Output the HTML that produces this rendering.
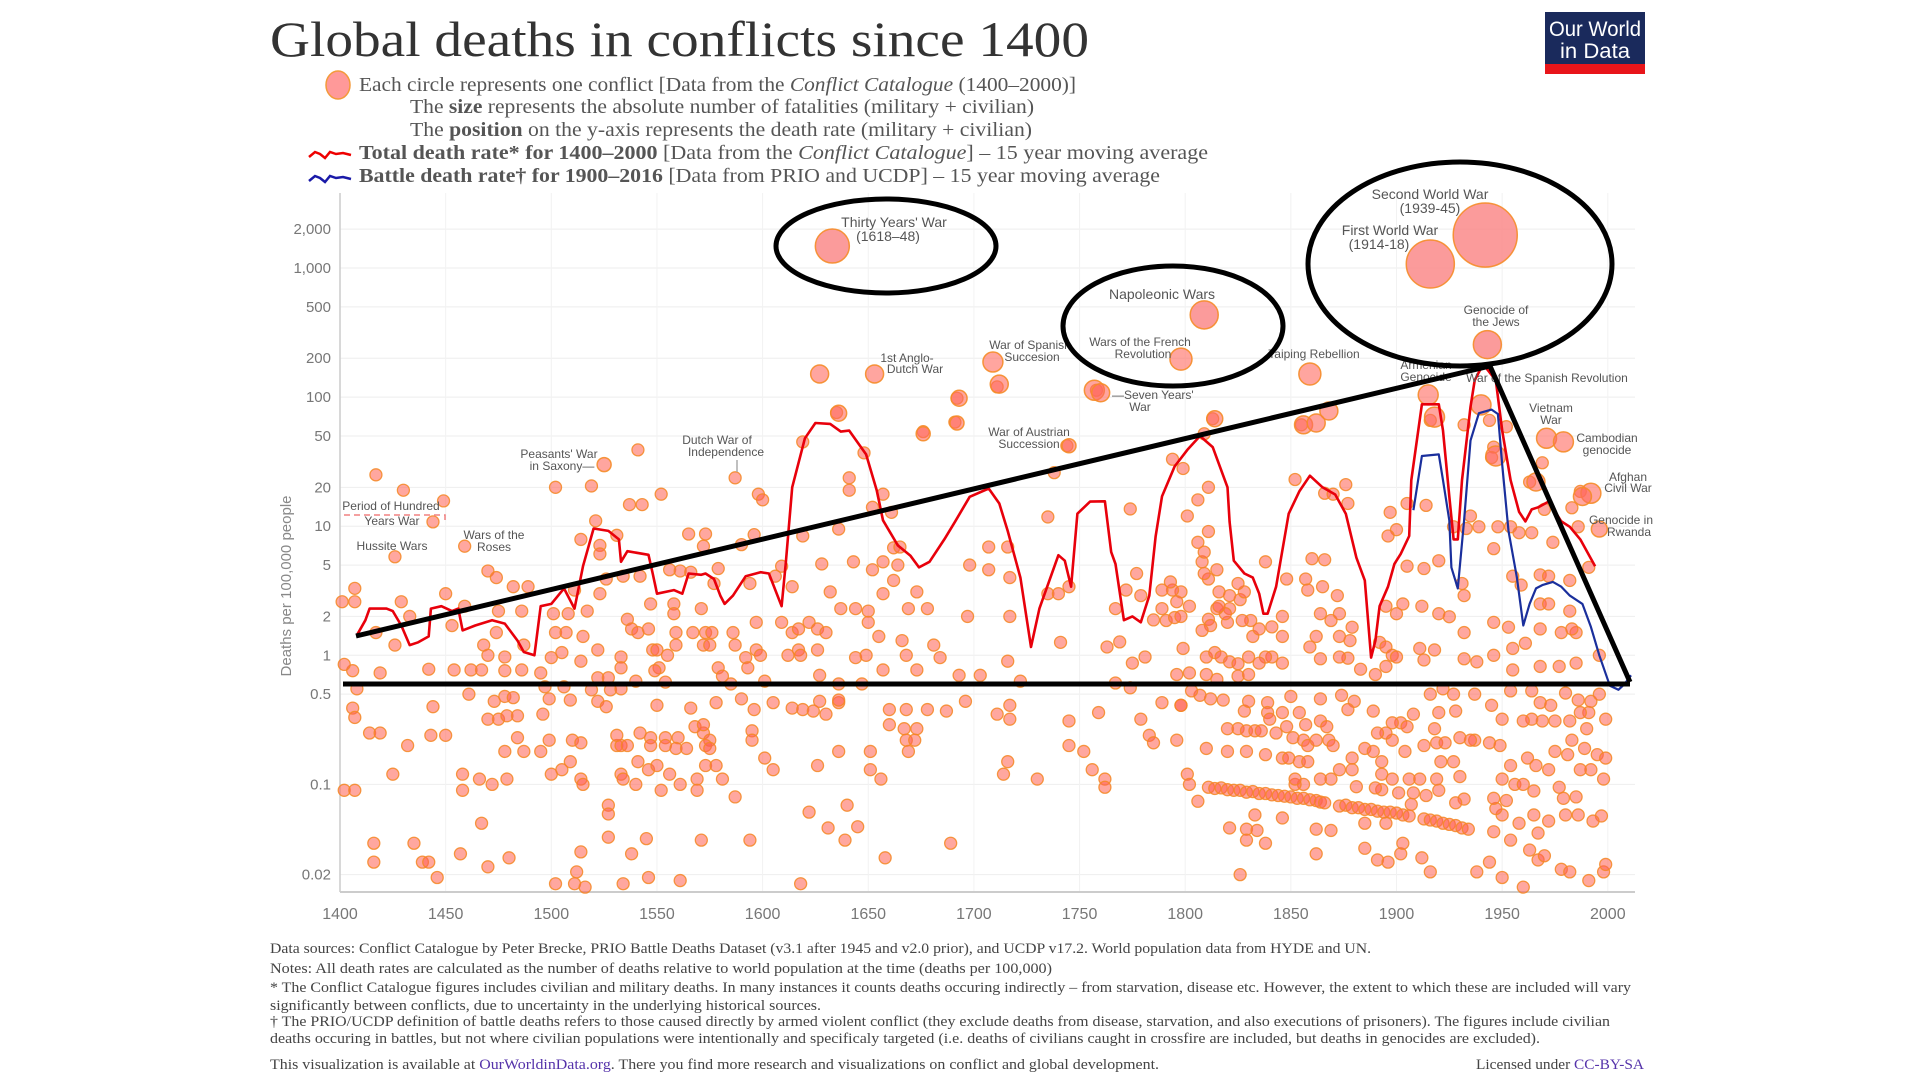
<!DOCTYPE html>
<html><head><meta charset="utf-8">
<style>
html,body{margin:0;padding:0;background:#fff;}
#wrap{position:relative;width:1920px;height:1080px;overflow:hidden;}
svg text{font-family:"Liberation Serif",serif;}
.sans{font-family:"Liberation Sans",sans-serif !important;}
</style></head>
<body>
<div id="wrap">
<svg id="svg" width="1920" height="1080" viewBox="0 0 1920 1080">
  <text x="270" y="56" font-size="50" fill="#333" textLength="819" lengthAdjust="spacingAndGlyphs">Global deaths in conflicts since 1400</text>
  <g>
    <rect x="1545" y="12" width="100" height="62" fill="#1a2a5c"/>
    <rect x="1545" y="64" width="100" height="10" fill="#e8151a"/>
    <text class="sans" x="1595" y="36" font-size="21" fill="#fff" text-anchor="middle" textLength="92" lengthAdjust="spacingAndGlyphs">Our World</text>
    <text class="sans" x="1595" y="58" font-size="21" fill="#fff" text-anchor="middle" textLength="70" lengthAdjust="spacingAndGlyphs">in Data</text>
  </g>
  <g fill="#555" font-size="20">
    <ellipse cx="338" cy="85" rx="12" ry="14" fill="#f99" stroke="#f39a3a" stroke-width="1.5"/>
    <text x="359" y="91" textLength="717" lengthAdjust="spacingAndGlyphs">Each circle represents one conflict [Data from the <tspan font-style="italic">Conflict Catalogue</tspan> (1400–2000)]</text>
    <text x="410" y="113" textLength="624" lengthAdjust="spacingAndGlyphs">The <tspan font-weight="bold">size</tspan> represents the absolute number of fatalities (military + civilian)</text>
    <text x="410" y="136" textLength="622" lengthAdjust="spacingAndGlyphs">The <tspan font-weight="bold">position</tspan> on the y-axis represents the death rate (military + civilian)</text>
    <path d="M309,157 l6,-5 l5,2 l5,4 l5,-6 l6,2 l7,-1 l8,2" fill="none" stroke="#e00" stroke-width="2.5"/>
    <text x="359" y="159" textLength="849" lengthAdjust="spacingAndGlyphs"><tspan font-weight="bold">Total death rate* for 1400–2000</tspan> [Data from the <tspan font-style="italic">Conflict Catalogue</tspan>] – 15 year moving average</text>
    <path d="M309,181 l6,-5 l5,2 l5,4 l5,-6 l6,2 l7,-1 l8,2" fill="none" stroke="#1a1aa8" stroke-width="2.5"/>
    <text x="359" y="182" textLength="801" lengthAdjust="spacingAndGlyphs"><tspan font-weight="bold">Battle death rate† for 1900–2016</tspan> [Data from PRIO and UCDP] – 15 year moving average</text>
  </g>
  <g id="grid"></g>
  <g id="axes"></g>
  <g id="points"></g>
  <g id="lines"></g>
  <g id="labels" class="sans" fill="#555"></g>
  <g id="annot" fill="none" stroke="#000" stroke-width="5">
    <ellipse cx="886" cy="246" rx="110" ry="47"/>
    <ellipse cx="1173" cy="326" rx="110" ry="60"/>
    <ellipse cx="1460" cy="264" rx="152" ry="102"/>
    <polyline points="356,636 1490,366 1630,682"/>
    <line x1="343" y1="684" x2="1630" y2="684"/>
  </g>
  <g fill="#444" font-size="15">
    <text x="270" y="953" textLength="1101" lengthAdjust="spacingAndGlyphs">Data sources: Conflict Catalogue by Peter Brecke, PRIO Battle Deaths Dataset (v3.1 after 1945 and v2.0 prior), and UCDP v17.2. World population data from HYDE and UN.</text>
    <text x="270" y="973" textLength="782" lengthAdjust="spacingAndGlyphs">Notes: All death rates are calculated as the number of deaths relative to world population at the time (deaths per 100,000)</text>
    <text x="270" y="992" textLength="1361" lengthAdjust="spacingAndGlyphs">* The Conflict Catalogue figures includes civilian and military deaths. In many instances it counts deaths occuring indirectly – from starvation, disease etc. However, the extent to which these are included will vary</text>
    <text x="270" y="1010" textLength="551" lengthAdjust="spacingAndGlyphs">significantly between conflicts, due to uncertainty in the underlying historical sources.</text>
    <text x="270" y="1026" textLength="1340" lengthAdjust="spacingAndGlyphs">† The PRIO/UCDP definition of battle deaths refers to those caused directly by armed violent conflict (they exclude deaths from disease, starvation, and also executions of prisoners). The figures include civilian</text>
    <text x="270" y="1043" textLength="1270" lengthAdjust="spacingAndGlyphs">deaths occuring in battles, but not where civilian populations were intentionally and specificaly targeted (i.e. deaths of civilians caught in crossfire are included, but deaths in genocides are excluded).</text>
    <text x="270" y="1069" textLength="889" lengthAdjust="spacingAndGlyphs">This visualization is available at <tspan fill="#5533aa">OurWorldinData.org</tspan>. There you find more research and visualizations on conflict and global development.</text>
    <text x="1476" y="1069" textLength="168" lengthAdjust="spacingAndGlyphs">Licensed under <tspan fill="#5533aa">CC-BY-SA</tspan></text>
  </g>
</svg>
</div>
<script>
// ---------- DATA ----------
const yTicks = [2000, 1000, 500, 200, 100, 50, 20, 10, 5, 2, 1, 0.5, 0.1, 0.02];
const yTickLabels = ["2,000", "1,000", "500", "200", "100", "50", "20", "10", "5", "2", "1", "0.5", "0.1", "0.02"];
const xTicks = [1400, 1450, 1500, 1550, 1600, 1650, 1700, 1750, 1800, 1850, 1900, 1950, 2000];

// Small conflicts: [year, deaths per 100,000]
const conflictYears = [
1417,1430,1449,1444,1426,1459,1407,1407,1401,1429,1450,1470,1474,1482,1489,1502,1519,1541,1537,1543,1552,1587,1598,1600,1635,1692,1691,1676,1711,1641,1641,1657,1648,1619,1521,1514,1523,1523,1531,1565,1573,1572,1596,1590,1619,1636,1661,1652,1628,1643,1652,1657,1664,1662,1665,1698,1707,1716,1707,1717,1614,1632,1657,1662,1673,1637,1644,1669,1678,1650,1697,1717,1556,1561,1566,1579,1534,1542,1526,1609,1606,1594,1577,1571,1547,1558,1558,1523,1511,1486,1501,1508,1517,1475,1459,1453,1433,1426,1417,1442,1454,1462,1467,1478,1486,1495,1406,1402,1419,1474,1468,1470,1478,1487,1500,1505,1514,1502,1507,1515,1522,1533,1536,1538,1541,1546,1548,1550,1555,1551,1549,1533,1559,1559,1567,1573,1576,1572,1575,1579,1586,1587,1592,1593,1597,1599,1597,1609,1614,1617,1622,1626,1630,1617,1618,1612,1626,1644,1649,1650,1655,1666,1668,1681,1684,1657,1673,1693,1703,1716,1627,1636,1647,1722,1581,1601,1585,1522,1527,1540,1554,
1408,1497,1506,1519,1528,1533,1461,1499,1509,1522,1526,1550,1566,1578,1590,1596,1605,1614,1619,1624,1627,1630,1636,1636,1660,1668,1678,1687,1696,1717,1711,1717,1406,1407,1444,1473,1478,1482,1470,1475,1479,1484,1496,1414,1419,1432,1443,1450,1484,1478,1487,1495,1499,1510,1514,1531,1533,1536,1531,1542,1547,1547,1554,1560,1554,1559,1564,1568,1572,1575,1573,1575,1573,1578,1572,1509,1505,1500,1514,1515,1541,1546,1550,1533,1534,1540,1556,1561,1569,1581,1552,1569,1587,1595,1595,1601,1605,1626,1636,1651,1651,1656,1660,1667,1673,1668,1672,1669,1716,1714,1730,1425,1458,1466,1479,1472,1458,1402,1407,1467,1416,1435,1416,1439,1442,1446,1457,1470,1480,1527,1527,1527,1545,1538,1514,1512,1502,1511,1516,1534,1546,1561,1571,1594,1622,1640,1618,1631,1639,1645,1658,1689,
1758,1744,1738,1813,1809,1799,1794,1811,1806,1801,1855,1852,1876,1866,1870,1877,1916,1932,1944,1946,1945,1952,1969,1963,1970,1983,1987,1986,1974,1991,1954,1958,1964,1948,1939,1933,1935,1927,1946,1914,1897,1900,1896,1905,1905,1913,1920,1931,1932,1955,1959,1968,1972,1982,1968,1972,1982,1912,1920,1925,1932,1946,1953,1968,1978,1985,1983,1955,1961,1968,1977,1985,1996,1946,1938,1932,1955,1918,1911,1913,1900,1895,1903,1892,1895,1898,1890,1883,1877,1873,1878,1873,1879,1869,1873,1864,1862,1859,1864,1866,1860,1857,1865,1858,1848,1846,1841,1846,1841,1838,1846,1835,1832,1835,1831,1827,1826,1828,1825,1821,1820,1819,1815,1815,1811,1809,1808,1809,1806,1811,1816,1816,1821,1811,1812,1808,1802,1798,1794,1789,1793,1789,1791,1795,1798,1796,1810,1814,1817,1821,1825,1830,1810,1815,1825,1830,1802,1796,1799,1781,1775,1785,1777,1779,1772,1767,1774,1735,1735,1745,1740,1741,1763,1769,1767,1774,1838,1872,1895,1900,
1745,1759,1745,1752,1756,1762,1762,1779,1783,1785,1789,1798,1796,1801,1802,1806,1810,1820,1829,1838,1846,1849,1851,1856,1858,1862,1868,1870,1854,1858,1820,1825,1829,1833,1836,1843,1821,1829,1834,1829,1838,1826,1833,1846,1862,1869,1862,1891,1896,1885,1902,1903,1912,1916,1938,1944,1950,1960,1967,1978,1982,1991,1998,1999,1946,1954,1963,1970,1967,1958,1950,1947,1965,1972,1980,1986,1997,1993,1979,1985,1977,1965,1952,1946,1956,1950,1932,1928,1920,1914,1908,1901,1893,1890,1881,1873,1879,1893,1898,1906,1911,1919,1930,1869,1864,1856,1852,1852,1879,1885,1893,1898,1902,1908,1905,1898,1895,1889,1904,1913,1919,1921,1927,1937,1944,1949,1954,1960,1962,1966,1972,1975,1981,1983,1989,1995,1998,1992,1999,1987,1982,1990,1991,1987,1992,1999,1975,1969,1964,1960,1950,1945,1935,1928,1920,1918,1916,1922,1927,1937,1954,1968,1973,1964,1980,1986,1996,1923,1930,1907,1895,1885,1848,1857,1864,1867,1846,1854,1839,1850,1864,1874,1880,1889,1839,1828,1830,1812,1818,1807,1803,1798,1840,1877,1891,
1811,1814,1817,1820,1823,1826,1829,1832,1835,1838,1841,1844,1847,1850,1853,1856,1859,1862,1864,1866,1873,1876,1879,1882,1885,1888,1891,1894,1897,1900,1903,1906,1913,1916,1919,1922,1925,1928,1931,1934
];
const conflictRates = [
25,19,15.7,10.8,5.8,7.0,3.3,2.6,2.6,2.6,3.0,4.5,4.0,3.4,3.4,20,20.5,39,14.7,14.7,17.7,23.7,17.7,16,76,98,64,54,120,23.7,19,17.7,37,45,11,7.9,7.1,6.1,8.5,8.7,8.7,7,8.6,7.2,8.4,9.5,12.8,14,5.1,5.3,4.6,5.3,5,6.8,6.9,5,6.9,6.9,4.6,4,3.4,3.1,3,3.8,3.1,2.3,2.3,2.3,2.3,2.2,2.0,2.0,4.6,4.5,4.4,4.7,4.1,4.1,3.9,4.9,4.1,3.6,3.6,2.3,2.5,2.5,2.1,3.0,3.2,2.2,2.1,2.1,2.2,2.2,2.4,1.7,2.0,1.2,1.5,0.78,0.77,0.77,0.77,0.76,0.77,0.73,0.76,0.85,0.73,1.5,1.2,1.0,0.97,1.2,0.96,1.05,0.9,1.5,1.5,1.4,1.1,0.97,1.9,1.6,1.5,1.6,1.1,1.1,1.0,0.8,0.76,0.8,1.5,1.2,1.5,1.5,1.5,1.2,1.2,0.8,1.5,1.2,0.96,0.8,1.1,1.0,1.8,1.8,1.5,1.6,1.8,1.6,1.5,1.1,1.0,1.0,1.1,0.96,1.0,1.8,1.4,1.3,1.0,1.2,0.96,0.77,0.77,0.7,0.7,0.9,0.7,0.6,0.6,0.63,0.69,0.63,0.6,0.67,0.67,0.63,0.62,
0.55,0.57,0.57,0.54,0.54,0.55,0.5,0.46,0.45,0.44,0.4,0.41,0.39,0.43,0.46,0.38,0.43,0.39,0.38,0.37,0.44,0.35,0.43,0.45,0.38,0.38,0.38,0.37,0.44,0.41,0.35,0.32,0.39,0.33,0.4,0.44,0.48,0.47,0.32,0.32,0.34,0.34,0.35,0.25,0.25,0.2,0.24,0.24,0.23,0.18,0.18,0.18,0.22,0.22,0.21,0.2,0.2,0.2,0.24,0.25,0.23,0.2,0.23,0.23,0.2,0.19,0.19,0.28,0.25,0.22,0.2,0.19,0.14,0.14,0.29,0.15,0.13,0.12,0.11,0.1,0.15,0.13,0.14,0.12,0.11,0.1,0.12,0.1,0.11,0.11,0.09,0.09,0.08,0.26,0.22,0.16,0.13,0.14,0.18,0.18,0.13,0.11,0.29,0.27,0.27,0.22,0.22,0.18,0.15,0.12,0.11,0.12,0.12,0.11,0.11,0.1,0.09,0.09,0.09,0.05,0.035,0.035,0.025,0.025,0.025,0.019,0.029,0.023,0.027,0.069,0.059,0.039,0.038,0.029,0.03,0.021,0.017,0.017,0.016,0.017,0.019,0.018,0.037,0.037,0.061,0.069,0.017,0.046,0.037,0.047,0.027,0.035,
113,42,26,68,52,28,33,20,16,12,61,23,21,18,17.7,15,66,61,66,41,34,59,31,22,13.5,13.9,18.6,9.9,7.5,4.8,9.9,8.9,8.9,9.9,9.9,9.6,12,9.9,6.7,14.5,12.8,9.4,8.4,15,4.9,4.7,5.4,3.6,2.9,4.1,3.5,4.2,4.1,3.8,2.5,2.5,2.2,2.4,2.1,1.99,1.5,1.8,1.65,1.6,1.5,1.5,1.6,1.13,1.24,0.82,0.82,0.87,1.0,1.0,0.89,0.94,0.77,1.1,1.13,0.92,2.1,2.4,2.5,1.26,1.16,1.0,0.71,0.78,0.95,0.97,1.3,1.4,1.65,1.86,2.1,2.1,1.4,1.16,0.94,5.5,5.6,3.9,3.4,3.2,3.9,2.0,1.66,1.4,0.97,0.97,0.87,0.87,1.4,1.6,1.86,1.86,2.7,3.1,3.6,2.3,1.8,2.1,2.3,4.6,3.9,4.3,5.3,6.3,7.5,9.1,3.1,2.4,2.9,1.9,1.7,1.56,2.4,3.1,3.2,3.2,3.7,2.3,1.86,1.96,2.0,2.6,0.97,1.05,0.97,0.89,0.86,0.97,0.71,0.65,0.69,0.71,0.73,0.71,1.13,0.97,0.87,1.88,4.3,2.9,3.2,2.3,13.6,11.8,3.0,3.4,3.0,1.26,1.16,1.27,0.61,0.56,5.3,2.9,0.82,0.97,
0.31,0.36,0.2,0.18,0.13,0.11,0.095,0.32,0.24,0.21,0.43,0.41,0.22,0.12,0.1,0.074,0.19,0.18,0.18,0.17,0.16,0.16,0.23,0.22,0.2,0.22,0.22,0.2,0.15,0.15,0.27,0.27,0.26,0.26,0.26,0.25,0.046,0.045,0.044,0.037,0.035,0.02,0.058,0.055,0.045,0.044,0.029,0.026,0.025,0.032,0.029,0.035,0.027,0.021,0.021,0.025,0.019,0.016,0.026,0.022,0.021,0.018,0.021,0.024,0.043,0.037,0.031,0.028,0.042,0.05,0.058,0.065,0.058,0.052,0.058,0.058,0.057,0.052,0.078,0.08,0.095,0.089,0.075,0.078,0.1,0.11,0.077,0.072,0.09,0.082,0.086,0.086,0.091,0.094,0.096,0.13,0.13,0.12,0.11,0.11,0.11,0.11,0.115,0.11,0.11,0.1,0.1,0.11,0.16,0.19,0.15,0.22,0.3,0.35,0.28,0.3,0.25,0.18,0.18,0.2,0.21,0.15,0.15,0.22,0.21,0.2,0.14,0.1,0.16,0.14,0.13,0.18,0.17,0.22,0.19,0.17,0.11,0.13,0.16,0.13,0.31,0.27,0.36,0.36,0.44,0.32,0.31,0.31,0.32,0.31,0.32,0.41,0.22,0.37,0.36,0.27,0.5,0.55,0.5,0.5,0.53,0.43,0.41,0.53,0.51,0.45,0.5,0.21,0.23,0.07,0.05,0.05,0.28,0.29,0.31,0.28,0.36,0.36,0.43,0.48,0.46,0.49,0.44,0.37,0.36,0.37,0.44,0.46,0.45,0.49,0.53,0.41,0.32,0.38,0.25,
0.095,0.093,0.094,0.091,0.09,0.09,0.087,0.088,0.085,0.085,0.083,0.082,0.081,0.08,0.078,0.078,0.076,0.075,0.073,0.072,0.068,0.069,0.066,0.066,0.064,0.064,0.062,0.061,0.061,0.06,0.058,0.057,0.054,0.053,0.052,0.05,0.049,0.048,0.046,0.045
];

// Major labelled conflicts
const majorNames = ["Thirty Years' War","First World War","Second World War","Napoleonic Wars","Wars of the French Revolution","Genocide of the Jews","War of Spanish Succession","","1st Anglo-Dutch War","","Taiping Rebellion","","","","","Seven Years' War","","War of Austrian Succession","Armenian Genocide","War of the Spanish Revolution","","Vietnam War","Cambodian genocide","Afghan Civil War","","Genocide in Rwanda","","","","","Peasants' War in Saxony","",""];
const majorYears = [1633,1916,1942,1809,1798,1943,1709,1712,1653,1627,1859,1693,1636,1676,1692,1757,1760,1745,1915,1940,1918,1971,1979,1992,1988,1996,1868,1856,1862,1814,1525,1966,1947];
const majorRates = [1480,1074,1800,433,197,255,187,126,151,151,151,98,75,52,63,113,108,42,104,87,70,48,45,18,17,9.5,78,61,63,68,30,22,35];
const majorFatalities = [20,40,71,13.6,8.4,13.6,6.9,5.6,5.6,5.6,8.4,4.4,4.4,3.4,3.4,6.9,5.6,3.4,6.9,6.9,6.9,6.9,6.9,6.9,5.6,4.4,5.6,5.6,5.6,4.4,3.4,5.6,6.9];

// Total death rate (Conflict Catalogue, 15y moving average)
const totalYears = [1408,1412,1414,1422,1425,1429,1433,1437,1442,1443,1448,1453,1456,1458,1464,1472,1478,1484,1487,1492,1495,1500,1506,1511,1515,1520,1527,1532,1533,1536,1546,1548,1550,1558,1562,1565,1571,1573,1577,1580,1582,1586,1592,1599,1603,1609,1611,1614,1620,1625,1632,1637,1641,1649,1654,1657,1664,1670,1674,1679,1686,1691,1698,1707,1712,1716,1722,1727,1731,1740,1743,1746,1749,1755,1762,1765,1767,1771,1775,1779,1783,1786,1789,1795,1801,1807,1813,1820,1821,1823,1828,1832,1835,1837,1839,1843,1849,1854,1859,1865,1871,1876,1881,1885,1888,1890,1892,1896,1899,1902,1906,1907,1912,1920,1922,1925,1927,1929,1931,1935,1937,1941,1947,1950,1954,1958,1961,1964,1967,1972,1978,1982,1987,1994];
const totalRates = [1.43,1.87,2.3,2.3,2.2,1.7,1.2,1.26,1.4,2.3,2.4,2.2,2.3,1.56,1.7,1.87,1.76,1.3,1.06,1.0,2.4,2.5,3.3,2.3,4.9,9.6,9.2,7.9,5.3,6.4,6.0,4.3,3.0,3.2,3.0,4.3,4.2,4.3,3.9,2.9,2.5,2.9,4.1,4.4,4.3,2.4,5.2,20,48,63,62,54,55,36,19,11.1,7.1,5.9,4.8,5.3,7.9,10.8,16.9,19.6,15,9.2,4.0,1.16,2.3,5.96,5.4,3.4,12.5,15.5,15.6,6.3,5.1,1.87,2.0,1.8,2.9,8.3,17,29,39,50,41,20,10.8,5.4,4.3,4.0,3.0,2.1,2.1,3.4,12.5,18.6,24.6,20,17.6,12.5,5.7,3.8,0.96,1.3,2.4,3.4,5.1,6.1,8.4,22.7,88,88,55,17,7.9,7.9,22.7,84,135,180,135,55,22.7,12.9,10.9,13.5,14,15.5,10.9,9.9,7.9,4.9];

// Battle death rate (PRIO/UCDP, 15y moving average)
const battleYears = [1908,1912,1920,1922,1925,1926,1929,1932,1935,1939,1945,1948,1950,1953,1957,1960,1963,1966,1969,1974,1978,1982,1988,1992,1996,2001,2005,2008,2011];
const battleRates = [13.3,35,36,22.7,11.1,4.8,3.3,11.1,46,75,80,74,30,9.2,4.0,1.7,2.5,3.3,3.5,3.7,3.4,2.9,2.5,1.66,1.0,0.58,0.54,0.6,0.7];

// ---------- SCALES ----------
const X0 = 340, PX_PER_YEAR = 2.113;
function xScale(year){ return X0 + (year - 1400) * PX_PER_YEAR; }
function yScale(v){ return 268 - (Math.log10(v) - 3) * 129.1; }
const PLOT_LEFT = 340, PLOT_RIGHT = 1635, PLOT_TOP = 193, PLOT_BOTTOM = 892;
const NS = "http://www.w3.org/2000/svg";
function mk(tag, attrs, parent){
  const el = document.createElementNS(NS, tag);
  for (const k in attrs) el.setAttribute(k, attrs[k]);
  parent.appendChild(el);
  return el;
}

// ---------- GRID & AXES ----------
const grid = document.getElementById('grid');
const axes = document.getElementById('axes');
yTicks.forEach((t, i) => {
  const y = yScale(t);
  const gl = mk('line', {x1: PLOT_LEFT, x2: PLOT_RIGHT, y1: y, y2: y, stroke: '#eee', 'stroke-width': 1}, grid);
  
  
  const tx = mk('text', {x: 331, y: y + 5, 'font-size': 15, fill: '#777', 'text-anchor': 'end', class: 'sans'}, axes);
  tx.textContent = yTickLabels[i];
  
  
});
xTicks.forEach(t => {
  const x = xScale(t);
  const gl = mk('line', {x1: x, x2: x, y1: PLOT_TOP, y2: PLOT_BOTTOM, stroke: '#f2f2f2', 'stroke-width': 1}, grid);
  
  
  const tx = mk('text', {x: x, y: 919, 'font-size': 16, fill: '#777', 'text-anchor': 'middle', class: 'sans'}, axes);
  tx.textContent = t;
  
  
});
const yl = mk('line', {x1: PLOT_LEFT, x2: PLOT_LEFT, y1: PLOT_TOP, y2: PLOT_BOTTOM, stroke: '#ccc', 'stroke-width': 1.5}, axes);


const xl = mk('line', {x1: PLOT_LEFT, x2: PLOT_RIGHT, y1: PLOT_BOTTOM, y2: PLOT_BOTTOM, stroke: '#ccc', 'stroke-width': 2}, axes);


const yt = mk('text', {x: 0, y: 0, 'font-size': 15, fill: '#888', 'text-anchor': 'middle', class: 'sans', transform: 'translate(291,586) rotate(-90)'}, axes);
yt.textContent = 'Deaths per 100,000 people';



// ---------- POINTS ----------
const pts = document.getElementById('points');
const n = Math.min(conflictYears.length, conflictRates.length);
for (let i = 0; i < n; i++){
  const c = mk('circle', {cx: xScale(conflictYears[i]), cy: yScale(conflictRates[i]), r: 6,
    fill: 'rgba(255,95,80,0.55)', stroke: 'rgba(245,135,35,0.85)', 'stroke-width': 1.3}, pts);
  
  
}
for (let i = 0; i < majorYears.length; i++){
  const r = Math.max(6, 3.8 * Math.sqrt(majorFatalities[i]));
  const c = mk('circle', {cx: xScale(majorYears[i]), cy: yScale(majorRates[i]), r: r,
    fill: r > 12 ? 'rgba(250,130,130,0.8)' : 'rgba(255,105,95,0.6)', stroke: 'rgba(245,140,40,0.9)', 'stroke-width': 1.5}, pts);
  
  
}

// ---------- LINES ----------
const lines = document.getElementById('lines');
function pathFrom(xs, vs){
  return xs.map((yr, i) => (i ? 'L' : 'M') + xScale(yr).toFixed(1) + ',' + yScale(vs[i]).toFixed(1)).join(' ');
}
const rl = mk('path', {d: pathFrom(totalYears, totalRates), fill: 'none', stroke: '#e8000b', 'stroke-width': 2.6, 'stroke-linejoin': 'round'}, lines);


const bl = mk('path', {d: pathFrom(battleYears, battleRates), fill: 'none', stroke: '#1a2f9c', 'stroke-width': 2.2, 'stroke-linejoin': 'round'}, lines);



// ---------- LABELS ----------
const labels = document.getElementById('labels');
const labelTexts = [
 ["Thirty Years' War", 894, 227, 14, 'middle'], ["(1618–48)", 888, 241, 14, 'middle'],
 ["Napoleonic Wars", 1162, 299, 14, 'middle'],
 ["Wars of the French", 1140, 346, 12, 'middle'], ["Revolution", 1143, 358, 12, 'middle'],
 ["Second World War", 1430, 199, 14, 'middle'], ["(1939-45)", 1430, 213, 14, 'middle'],
 ["First World War", 1390, 235, 14, 'middle'], ["(1914-18)", 1379, 249, 14, 'middle'],
 ["Genocide of", 1496, 314, 12, 'middle'], ["the Jews", 1496, 326, 12, 'middle'],
 ["War of Spanish", 1030, 349, 12, 'middle'], ["Succesion", 1032, 361, 12, 'middle'],
 ["1st Anglo-", 907, 362, 12, 'middle'], ["Dutch War", 915, 373, 12, 'middle'],
 ["Taiping Rebellion", 1314, 358, 12, 'middle'],
 ["Armenian", 1426, 369, 12, 'middle'], ["Genocide", 1426, 381, 12, 'middle'],
 ["War of the Spanish Revolution", 1547, 382, 12, 'middle'],
 ["—Seven Years'", 1112, 399, 12, 'start'], ["War", 1140, 411, 12, 'middle'],
 ["Vietnam", 1551, 412, 12, 'middle'], ["War", 1551, 424, 12, 'middle'],
 ["Cambodian", 1607, 442, 12, 'middle'], ["genocide", 1607, 454, 12, 'middle'],
 ["Afghan", 1628, 481, 12, 'middle'], ["Civil War", 1628, 492, 12, 'middle'],
 ["Genocide in", 1621, 524, 12, 'middle'], ["Rwanda", 1629, 536, 12, 'middle'],
 ["War of Austrian", 1029, 436, 12, 'middle'], ["Succession", 1029, 448, 12, 'middle'],
 ["Dutch War of", 717, 444, 12, 'middle'], ["Independence", 726, 456, 12, 'middle'],
 ["Peasants' War", 559, 458, 12, 'middle'], ["in Saxony—", 562, 470, 12, 'middle'],
 ["Period of Hundred", 391, 510, 12, 'middle'], ["Years War", 392, 525, 12, 'middle'],
 ["Hussite Wars", 392, 550, 12, 'middle'],
 ["Wars of the", 494, 539, 12, 'middle'], ["Roses", 494, 551, 12, 'middle']
];
labelTexts.forEach(l => {
  const t = mk('text', {x: l[1], y: l[2], 'font-size': l[3], 'text-anchor': l[4], class: 'sans', fill: '#555'}, labels);
  t.textContent = l[0];
  
  
});
const dash = mk('path', {d: 'M344,515 L445,515 L445,523', fill: 'none', stroke: '#f08080', 'stroke-width': 1.5, 'stroke-dasharray': '6,4'}, labels);


const tick = mk('line', {x1: 737, x2: 737, y1: 460, y2: 472, stroke: '#aaa', 'stroke-width': 1.5}, labels);


</script>
</body></html>
